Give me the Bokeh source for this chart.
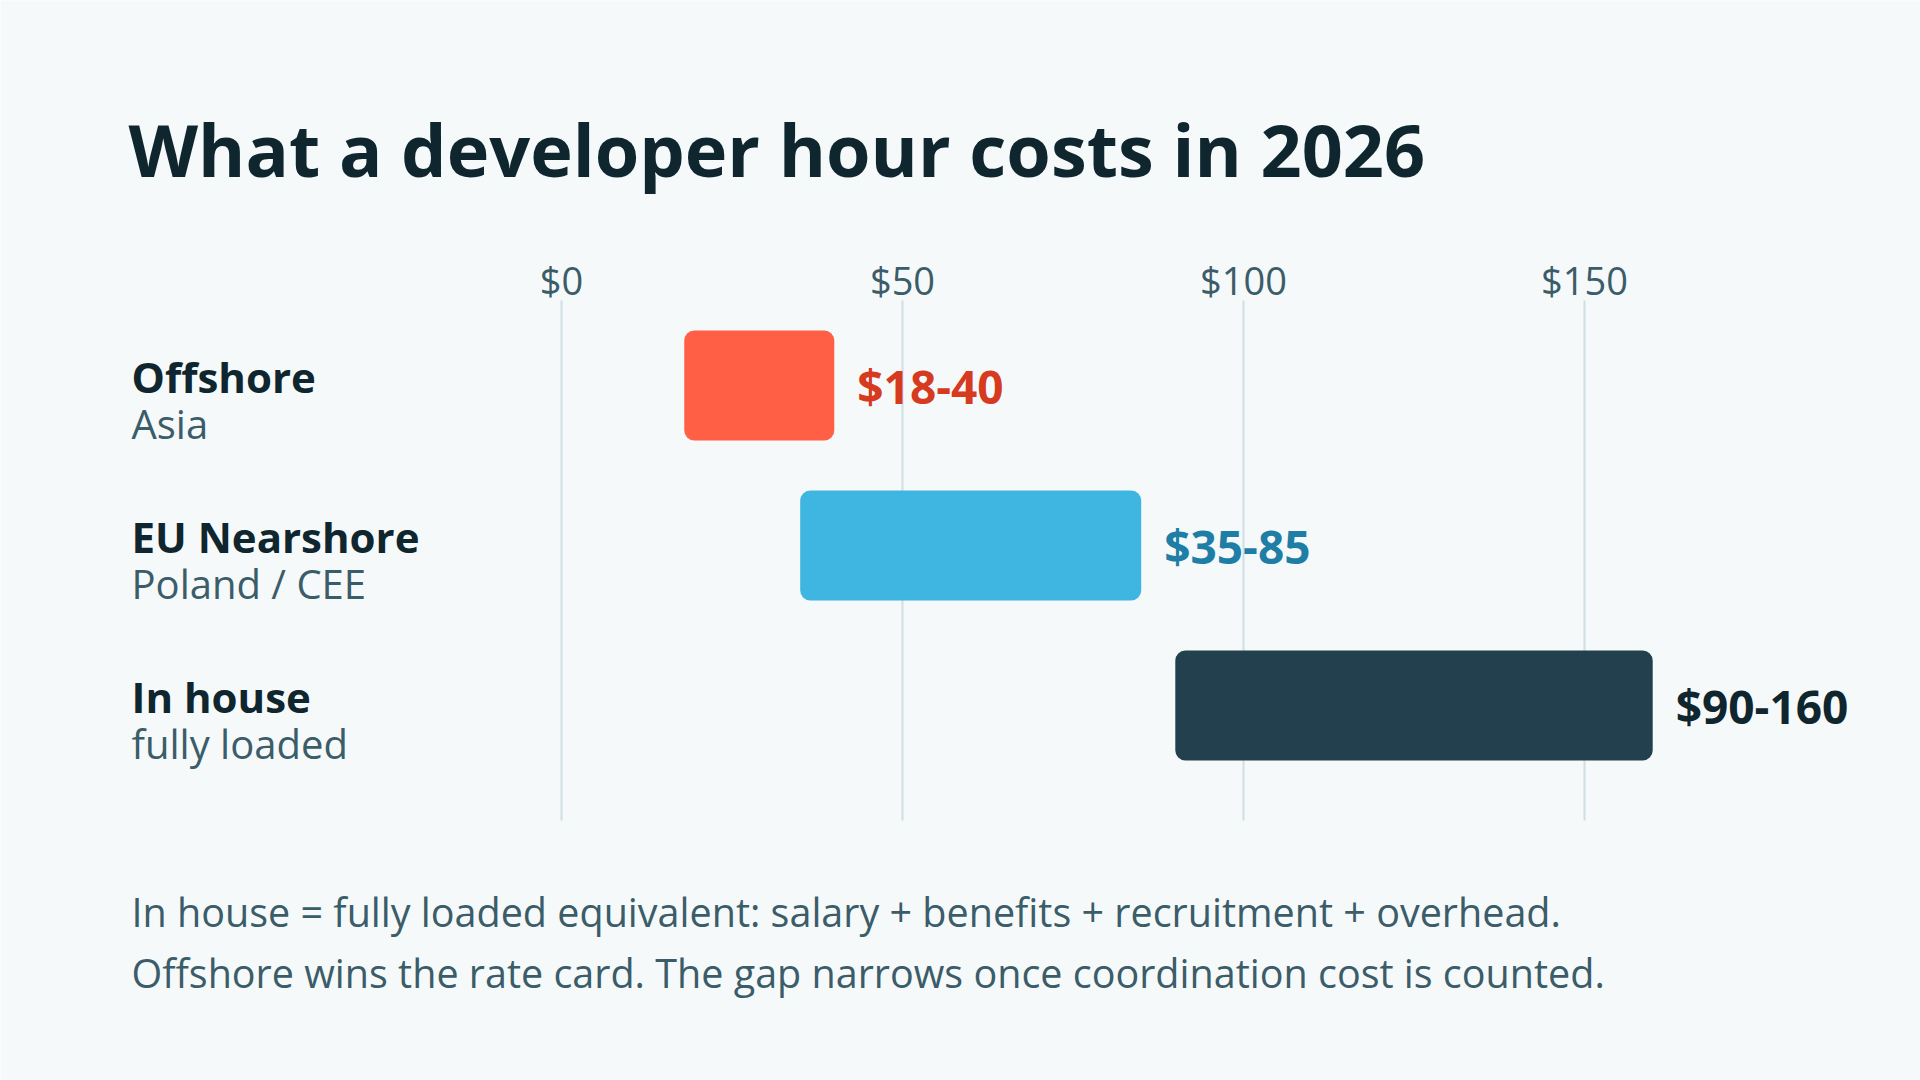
from bokeh.plotting import figure
from bokeh.models import Range1d, ColumnDataSource
from bokeh.core.properties import value
from bokeh.embed import file_html
from bokeh.resources import INLINE

# ---- data ----
categories = ["Offshore", "EU Nearshore", "In house"]
sublabels = ["Asia", "Poland / CEE", "fully loaded"]
low = [18, 35, 90]
high = [40, 85, 160]
range_labels = ["$18-40", "$35-85", "$90-160"]
bar_colors = ["#ff5f45", "#3fb6e1", "#22404d"]
label_colors = ["#d63a1f", "#1f7ea6", "#10262f"]
tick_values = [0, 50, 100, 150]
tick_labels = ["$0", "$50", "$100", "$150"]
title_text = "What a developer hour costs in 2026"
notes = [
    "In house = fully loaded equivalent: salary + benefits + recruitment + overhead.",
    "Offshore wins the rate card. The gap narrows once coordination cost is counted.",
]

# ---- layout (pixels) ----
W, H = 1920, 1080
X0, PPU = 561, 6.82      # pixel of $0, pixels per dollar
Y0, ROW = 385, 160       # pixel centre of first row, row spacing
BG = "#f5f9fa"
DARK = "#10262f"
MUTED = "#3b5c69"
FONT = "Open Sans"


def xd(px):
    return (px - X0) / PPU


def yd(px):
    return (px - Y0) / ROW


p = figure(width=W, height=H, output_backend="svg", toolbar_location=None,
           x_range=Range1d(xd(0), xd(W)), y_range=Range1d(yd(H), yd(0)),
           min_border=0, outline_line_color=None,
           background_fill_color=BG, border_fill_color=BG)
p.axis.visible = False
p.grid.visible = False

rows = list(range(len(categories)))

# grid lines
grid = ColumnDataSource(dict(x=tick_values, y0=[yd(300)] * len(tick_values),
                             y1=[yd(820)] * len(tick_values), lab=tick_labels))
p.segment(x0="x", x1="x", y0="y0", y1="y1", source=grid,
          line_color="#cfe0e4", line_width=2)
p.text(x="x", y="y0", text="lab", source=grid, y_offset=-21,
       text_align="center", text_baseline="alphabetic",
       text_font=value(FONT), text_font_size="38px", text_color=MUTED)

# bars
src = ColumnDataSource(dict(y=rows, left=low, right=high, color=bar_colors,
                            lab=range_labels, labcol=label_colors,
                            cat=categories, sub=sublabels,
                            lx=[xd(131)] * len(rows)))
p.hbar(y="y", left="left", right="right", height=110 / ROW, source=src,
       fill_color="color", line_color=None, border_radius=10)
p.text(x="right", y="y", text="lab", source=src, x_offset=23,
       text_align="left", text_baseline="middle", text_color="labcol",
       text_font=value(FONT), text_font_style="bold", text_font_size="46px")

# category labels
p.text(x="lx", y="y", text="cat", source=src, y_offset=-9,
       text_align="left", text_baseline="alphabetic", text_color=DARK,
       text_font=value(FONT), text_font_style="bold", text_font_size="42px")
p.text(x="lx", y="y", text="sub", source=src, y_offset=38,
       text_align="left", text_baseline="alphabetic", text_color=MUTED,
       text_font=value(FONT), text_font_size="40px")

# title
tsrc = ColumnDataSource(dict(x=[xd(128)], y=[yd(148)], t=[title_text]))
p.text(x="x", y="y", text="t", source=tsrc, text_align="left",
       text_baseline="alphabetic", text_color=DARK, text_font=value(FONT),
       text_font_style="bold", text_font_size="72px")

# notes
nsrc = ColumnDataSource(dict(x=[xd(131)] * 2, y=[yd(911), yd(972)], t=notes))
p.text(x="x", y="y", text="t", source=nsrc, text_align="left",
       text_baseline="alphabetic", text_color=MUTED, text_font=value(FONT),
       text_font_size="39.5px")

open("out.html", "w").write(file_html(p, INLINE))
